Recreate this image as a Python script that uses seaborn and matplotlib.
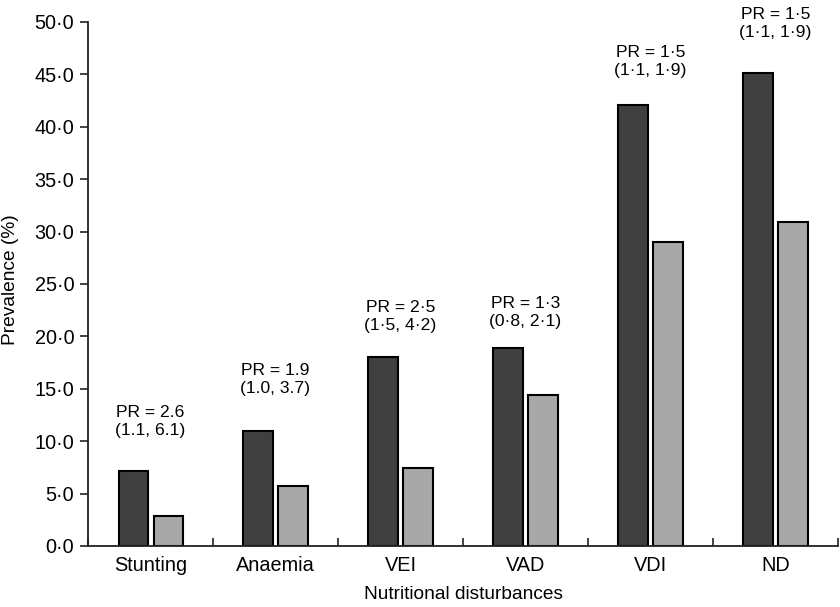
import matplotlib
matplotlib.use("Agg")
import matplotlib.pyplot as plt
import seaborn as sns
import pandas as pd
import numpy as np

categories = ["Stunting", "Anaemia", "VEI", "VAD", "VDI", "ND"]
group_dark = [7.2, 11.0, 18.0, 18.9, 42.1, 45.1]
group_light = [2.9, 5.7, 7.4, 14.4, 29.0, 30.9]
series_names = ["Group 1", "Group 2"]
pr_labels = ["PR = 2.6\n(1.1, 6.1)", "PR = 1.9\n(1.0, 3.7)", "PR = 2\u00b75\n(1\u00b75, 4\u00b72)",
             "PR = 1\u00b73\n(0\u00b78, 2\u00b71)", "PR = 1\u00b75\n(1\u00b71, 1\u00b79)", "PR = 1\u00b75\n(1\u00b71, 1\u00b79)"]
# vertical centre of each two-line annotation (layout only)
pr_text_y = [11.85, 15.85, 21.85, 22.25, 46.2, 49.9]
y_ticks = [0, 5, 10, 15, 20, 25, 30, 35, 40, 45, 50]
y_tick_labels = ["0\u00b70", "5\u00b70", "10\u00b70", "15\u00b70", "20\u00b70", "25\u00b70",
                 "30\u00b70", "35\u00b70", "40\u00b70", "45\u00b70", "50\u00b70"]

df = pd.DataFrame({
    "cat": categories * 2,
    "val": group_dark + group_light,
    "series": [series_names[0]] * len(categories) + [series_names[1]] * len(categories),
})

sns.set_style("ticks")
plt.rcParams["font.family"] = ["Liberation Sans", "DejaVu Sans"]
plt.rcParams["text.color"] = "black"
plt.rcParams["axes.labelcolor"] = "black"
plt.rcParams["xtick.color"] = "black"
plt.rcParams["ytick.color"] = "black"

fig = plt.figure(figsize=(8.4, 6.07), dpi=100)
ax = fig.add_axes([0.1048, 0.1005, 0.8928, 0.8633])

sns.barplot(data=df, x="cat", y="val", hue="series", order=categories,
            palette=["#404040", "#a8a8a8"], width=0.56, gap=0.17,
            edgecolor="black", linewidth=1.5, legend=False, ax=ax, errorbar=None)

ax.set_xlim(-0.5, len(categories) - 0.5)
ax.set_ylim(0, 50)
ax.set_yticks(y_ticks)
ax.set_yticklabels(y_tick_labels, fontsize=14.3)
ax.tick_params(axis="y", direction="out", length=6, width=1.2, color="#222222", pad=4)
ax.tick_params(axis="x", which="major", length=0, labelsize=14.3, pad=7)
ax.set_xticks(np.arange(-0.5, len(categories)), minor=True)
ax.tick_params(axis="x", which="minor", direction="in", length=6, width=1.2, color="#222222")

for s in ["top", "right"]:
    ax.spines[s].set_visible(False)
for s in ["left", "bottom"]:
    ax.spines[s].set_linewidth(1.3)
    ax.spines[s].set_color("#222222")

ax.set_xlabel("Nutritional disturbances", fontsize=13.8)
ax.set_ylabel("Prevalence (%)", fontsize=13.8)
ax.xaxis.set_label_coords(0.5, -(595 - 546) / 524.0)
ax.yaxis.set_label_coords(-(88 - 10.5) / 750.0, (546 - 280) / 524.0)
ax.xaxis.label.set_va("center")
ax.yaxis.label.set_va("center")

for i, (lab, ty) in enumerate(zip(pr_labels, pr_text_y)):
    ax.text(i, ty, lab, ha="center", va="center", fontsize=12.6, linespacing=1.25)

fig.savefig("out.png", dpi=100)
